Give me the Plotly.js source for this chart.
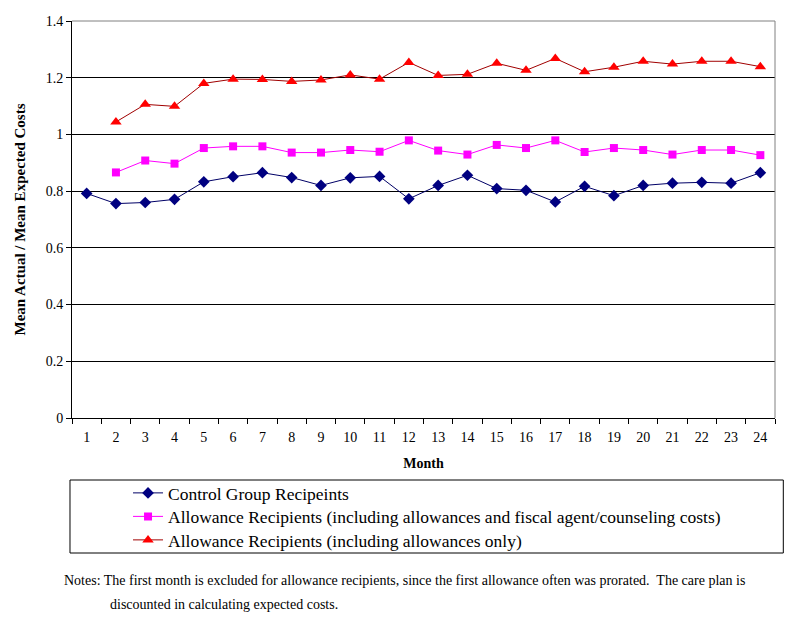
<!DOCTYPE html>
<html>
<head>
<meta charset="utf-8">
<script src="https://cdn.plot.ly/plotly-3.0.1.min.js"></script>
<style>
  html, body { margin: 0; padding: 0; background: #ffffff; }
  #chart { width: 798px; height: 639px; }
</style>
</head>
<body>
<div id="chart"></div>
<script>
var months = ['1','2','3','4','5','6','7','8','9','10','11','12','13','14','15','16','17','18','19','20','21','22','23','24'];

var controlGroup = [0.792, 0.756, 0.760, 0.771, 0.833, 0.851, 0.865, 0.848, 0.820, 0.847, 0.852, 0.773,
                    0.820, 0.856, 0.809, 0.803, 0.762, 0.817, 0.784, 0.820, 0.828, 0.831, 0.828, 0.865];

var allowanceFiscal = [null, 0.866, 0.908, 0.897, 0.952, 0.958, 0.958, 0.936, 0.936, 0.945, 0.939, 0.979,
                       0.943, 0.929, 0.963, 0.952, 0.979, 0.938, 0.952, 0.945, 0.929, 0.945, 0.945, 0.927];

var allowanceOnly = [null, 1.044, 1.106, 1.099, 1.180, 1.195, 1.194, 1.187, 1.192, 1.210, 1.195, 1.254,
                     1.208, 1.212, 1.251, 1.226, 1.268, 1.221, 1.237, 1.258, 1.248, 1.258, 1.258, 1.239];

var seriesNames = [
  'Control Group Recipeints',
  'Allowance Recipients (including allowances and fiscal agent/counseling costs)',
  'Allowance Recipients (including allowances only)'
];

var serif = 'Liberation Serif';
var PW = 702.7, PH = 397;   // plot size in px, for paper-coordinate placement
function px(x) { return (x - 72) / PW; }
function py(y) { return (418 - y) / PH; }

var traces = [
  {
    x: months, y: controlGroup, name: seriesNames[0], type: 'scatter', mode: 'lines+markers',
    line: {color: '#000066', width: 1},
    marker: {symbol: 'diamond', size: 9, color: '#000080'},
    legend: 'legend'
  },
  {
    x: months, y: allowanceFiscal, name: seriesNames[1], type: 'scatter', mode: 'lines+markers',
    line: {color: '#ff00ff', width: 1},
    marker: {symbol: 'square', size: 8, color: '#ff00ff'},
    legend: 'legend2'
  },
  {
    x: months, y: allowanceOnly, name: seriesNames[2], type: 'scatter', mode: 'lines+markers',
    line: {color: '#a00000', width: 1},
    marker: {symbol: 'triangle-up', size: 10, color: '#ff0000'},
    legend: 'legend3'
  }
];

function legendAt(yc) {
  return {
    x: px(128), y: py(yc), xanchor: 'left', yanchor: 'middle',
    font: {family: serif, size: 17.5, color: '#000000'},
    bgcolor: 'rgba(0,0,0,0)', borderwidth: 0, itemwidth: 30
  };
}

var layout = {
  width: 798, height: 639,
  margin: {l: 72, r: 23, t: 21, b: 221},
  paper_bgcolor: '#ffffff', plot_bgcolor: '#ffffff',
  font: {family: serif, size: 13, color: '#000000'},
  showlegend: true,
  legend: legendAt(493),
  legend2: legendAt(516.5),
  legend3: legendAt(540),
  xaxis: {
    type: 'category',
    range: [-0.5, 23.5],
    showgrid: false, zeroline: false,
    showline: true, linecolor: '#000000', linewidth: 1,
    ticks: 'outside', ticklen: 5, tickcolor: '#000000', tickson: 'boundaries',
    ticklabelstandoff: 6,
    tickfont: {family: serif, size: 14},
    title: {text: '<b>Month</b>', font: {family: serif, size: 14}, standoff: 14}
  },
  yaxis: {
    range: [0, 1.4], dtick: 0.2, tick0: 0,
    showgrid: true, gridcolor: '#000000', gridwidth: 1,
    zeroline: false,
    showline: true, linecolor: '#000000', linewidth: 1,
    ticks: 'outside', ticklen: 5, tickcolor: '#000000',
    tickfont: {family: serif, size: 14},
    title: {text: '<b>Mean Actual / Mean Expected Costs</b>', font: {family: serif, size: 15}, standoff: 16}
  },
  shapes: [
    {type: 'line', xref: 'paper', yref: 'paper', x0: 0, x1: 1, y0: 1, y1: 1,
     line: {color: '#808080', width: 1}, layer: 'above'},
    {type: 'line', xref: 'paper', yref: 'paper', x0: 1, x1: 1, y0: 0, y1: 1,
     line: {color: '#808080', width: 1}, layer: 'above'},
    {type: 'rect', xref: 'paper', yref: 'paper',
     x0: px(70), x1: px(783), y0: py(553), y1: py(480),
     line: {color: '#000000', width: 1}, fillcolor: 'rgba(0,0,0,0)'}
  ],
  annotations: [
    {xref: 'paper', yref: 'paper', x: px(62), y: py(580),
     xanchor: 'left', yanchor: 'middle', showarrow: false,
     text: 'Notes: The first month is excluded for allowance recipients, since the first allowance often was prorated.  The care plan is',
     font: {family: serif, size: 14, color: '#000000'}},
    {xref: 'paper', yref: 'paper', x: px(108), y: py(604),
     xanchor: 'left', yanchor: 'middle', showarrow: false,
     text: 'discounted in calculating expected costs.',
     font: {family: serif, size: 14, color: '#000000'}}
  ]
};

Plotly.newPlot('chart', traces, layout, {displayModeBar: false, staticPlot: true});
</script>
</body>
</html>
